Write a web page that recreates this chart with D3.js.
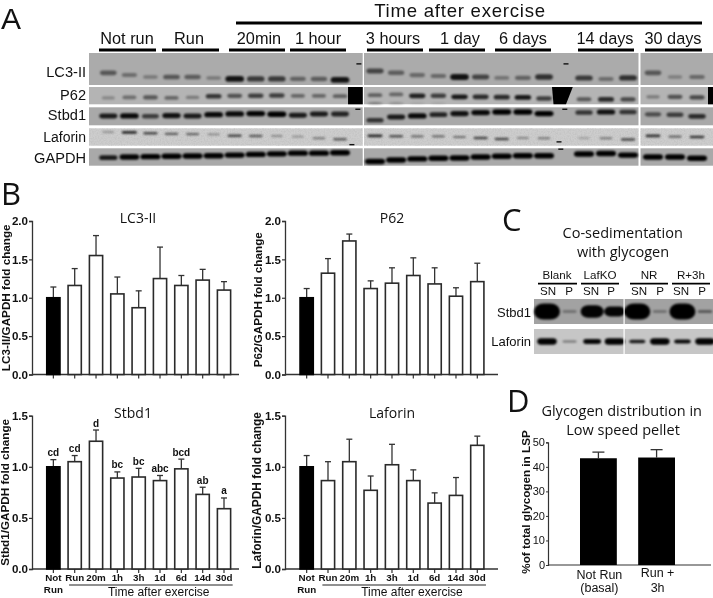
<!DOCTYPE html>
<html><head><meta charset="utf-8">
<script src="https://cdn.jsdelivr.net/npm/d3@7/dist/d3.min.js"></script>
<style>
html,body{margin:0;padding:0;background:#fff}
svg{display:block;filter:blur(0.3px)}
text{fill:#111}
</style></head><body>
<svg id="fig" width="713" height="598"></svg>
<script>
// ---------- data ----------
const timeCategories = ["Not","Run","20m","1h","3h","1d","6d","14d","30d"];
const lc3Means   = [1.0,1.16,1.55,1.05,0.87,1.25,1.16,1.23,1.10];
const lc3Upper   = [1.14,1.38,1.81,1.27,1.09,1.66,1.29,1.37,1.21];
const p62Means   = [1.0,1.32,1.74,1.12,1.19,1.29,1.18,1.02,1.21];
const p62Upper   = [1.12,1.51,1.83,1.22,1.39,1.52,1.39,1.13,1.45];
const stbdMeans  = [1.0,1.05,1.25,0.89,0.90,0.865,0.98,0.73,0.59];
const stbdUpper  = [1.07,1.11,1.36,0.95,0.985,0.915,1.075,0.80,0.695];
const stbdLetters= ["cd","cd","d","bc","bc","abc","bcd","ab","a"];
const lafMeans   = [1.0,0.865,1.05,0.77,1.02,0.865,0.645,0.72,1.21];
const lafUpper   = [1.11,1.05,1.27,0.91,1.22,0.97,0.745,0.895,1.30];
const glyCategories = [["Not Run","(basal)"],["Run +","3h"]];
const glyMeans   = [43.5,43.8];
const glyUpper   = [46,47];
const ticks2     = [0,0.5,1.0,1.5,2.0];
const ticks15    = [0,0.5,1.0,1.5];
const ticks50    = [0,10,20,30,40,50];

const groupLabels = ["Not run","Run","20min","1 hour","3 hours","1 day","6 days","14 days","30 days"];
const blotRows    = ["LC3-II","P62","Stbd1","Laforin","GAPDH"];
// band signal (0-1) per lane, and migration (% down the strip) per lane
const lc3Signal = [.6,.4,.3,.6,.55,.3,.95,.75,.75,.5,.55,.95,.7,.55,.45,.45,.95,.7,.35,.5,.8,.75,.4,.8,.6,.25,.45];
const lc3Shift  = [62,69,75,75,75,78,81,81,81,81,81,84,56,62,69,72,75,75,78,78,75,78,81,78,62,75,75];
const p62Signal = [.2,.4,.55,.45,.3,.75,.6,.7,.7,.45,.45,.5,.5,.45,.85,.7,.9,.8,.8,.9,.7,.55,.8,.65,.3,.6,.65];
const p62Shift  = [63,60,60,63,60,53,51,51,49,51,51,53,47,43,51,51,57,57,59,60,66,71,72,72,57,57,60];
const p62Lower  = [.4,.25,.1,.1];
const stbSignal = [.85,.95,.65,.9,.85,.95,.95,.98,1,.85,.85,.8,.7,.85,.95,.8,.9,.95,1,1,1,.7,.9,.7,.55,.65,.75];
const stbShift  = [48,48,50,46,48,41,37,35,39,44,37,37,72,54,48,41,35,29,26,26,35,29,26,26,39,41,50];
const lafSignal = [.3,.85,.7,.6,.55,.35,.7,.6,.3,.3,.45,.6,.85,.65,.5,.5,.5,.7,.7,.35,.45,.2,.45,.7,.8,.55,.8];
const lafShift  = [22,24,29,32,33,35,43,44,44,48,57,63,43,46,46,46,50,56,61,56,57,57,57,65,44,48,50];
const gapSignal = [.7,.95,1,1,1,1,1,1,1,1,1,1,1,1,1,1,1,1,1,1,1,1,1,1,1,1,1];
const gapShift  = [54,50,48,46,44,43,39,35,32,28,28,26,76,67,61,57,56,50,46,43,43,33,30,39,50,50,57];

const cGroups   = ["Blank","LafKO","NR","R+3h"];
const cFractions= ["SN","P","SN","P","SN","P","SN","P"];
const cStbd     = [1,.15,.85,.75,1,.15,1,.2];
const cLaf      = [.85,.2,.65,.9,.45,.85,.5,.85];

// ---------- helpers ----------
const svg = d3.select("#fig");
const sans = "'Liberation Sans',Arial,sans-serif";
const openFont = "'Open Sans',sans-serif";
const defs = svg.append("defs");
defs.append("filter").attr("id","soft").attr("x","-30%").attr("y","-100%").attr("width","160%").attr("height","300%")
    .append("feGaussianBlur").attr("stdDeviation",0.85);
const grain = defs.append("filter").attr("id","grain").attr("x","0").attr("y","0").attr("width","100%").attr("height","100%");
grain.append("feTurbulence").attr("type","fractalNoise").attr("baseFrequency",0.7).attr("numOctaves",2).attr("seed",4);
grain.append("feColorMatrix").attr("type","matrix").attr("values","0 0 0 0 0.35  0 0 0 0 0.35  0 0 0 0 0.35  0.5 0 0 0 -0.18");

function txt(x,y,s,o={}){
  return svg.append("text").attr("x",x).attr("y",y).text(s)
    .attr("text-anchor",o.anchor||"middle")
    .style("font-family",o.family||sans)
    .style("font-size",(o.size||12)+"px")
    .style("font-weight",o.weight||"normal")
    .attr("transform",o.rotate?`rotate(${o.rotate} ${x} ${y})`:null);
}
function rule(x1,x2,y,w,c){svg.append("line").attr("x1",x1).attr("x2",x2).attr("y1",y).attr("y2",y).attr("stroke",c||"#000").attr("stroke-width",w);}
function stadium(sel,cx,cy,rx,ry){
  return sel.attr("x",(d,i)=>cx(d,i)-rx(d)).attr("y",(d,i)=>cy(d,i)-ry(d))
    .attr("width",d=>2*rx(d)).attr("height",d=>2*ry(d)).attr("rx",d=>ry(d)*1.2).attr("ry",d=>ry(d));
}

// ---------- panel letters ----------
txt(1,29,"A",{anchor:"start",size:30});
[["B",1,205],["C",502,231],["D",507,412]].forEach(d=>txt(d[1],d[2],d[0],{anchor:"start",family:openFont,size:31}));

// ---------- panel A ----------
txt(460,17,"Time after exercise",{size:18.6}).style("letter-spacing","0.75px");
rule(236,702,23,3);
const groupCentres=[127,189,259,318,393,460,523,605,673];
const groupBars=[[99,156],[162,219],[229,285],[290,346],[367,423],[429,485],[495,551],[578,634],[645,702]];
groupLabels.forEach((g,i)=>{txt(groupCentres[i],44,g,{size:16.3});rule(groupBars[i][0],groupBars[i][1],50,3);});

const laneX = d3.scaleLinear().domain([0,11,12,20,21,23,24,26]).range([108.3,340,375,544,584,628,653,697]);
const strips=[[89,362.7],[364,638.5],[640.5,713]];
const rowsY=[[53,85,"#ababab"],[87,104.3,"#b4b4b4"],[107.3,125.3,"#a9a9a9"],[128.3,145.7,"#cdcdcd"],[148.3,165.7,"#a9a9a9"]];
const rowBands=[
 {signal:lc3Signal,shift:lc3Shift,rx:[6.5,9.5],ry:[1.3,3.0],dark:[.1,.5,.95]},
 {signal:p62Signal,shift:p62Shift,rx:[6,8.5],ry:[1.3,2.6],dark:[.1,.55,.98]},
 {signal:stbSignal,shift:stbShift,rx:[6.5,9.5],ry:[1.3,2.7],dark:[.1,.6,1]},
 {signal:lafSignal,shift:lafShift,rx:[5,8],ry:[0.7,1.5],dark:[.1,.55,.95]},
 {signal:gapSignal,shift:gapShift,rx:[7,10],ry:[1.7,2.7],dark:[.1,.8,1]}];
const labelY=[77,100,120,142,163];
const clipped = svg.append("g");
blotRows.forEach((name,r)=>{
  const [y0,y1,bg]=rowsY[r];
  strips.forEach(s=>{
    clipped.append("rect").attr("x",s[0]).attr("y",y0).attr("width",s[1]-s[0]).attr("height",y1-y0).attr("fill",bg);
    if(r===3) clipped.append("rect").attr("x",s[0]).attr("y",y0).attr("width",s[1]-s[0]).attr("height",y1-y0).attr("filter","url(#grain)");
  });
  const rowY=d3.scaleLinear().domain([0,100]).range([y0,y1]);
  const b=rowBands[r];
  const rx=d3.scaleLinear().domain([0,1]).range(b.rx);
  const ry=d3.scaleLinear().domain([0,1]).range(b.ry);
  const op=d3.scaleLinear().domain([0,.6,1]).range(b.dark);
  clipped.append("g").attr("filter","url(#soft)").selectAll("rect").data(b.signal).join("rect")
    .call(stadium,(d,i)=>laneX(i),(d,i)=>rowY(b.shift[i]),rx,ry)
    .attr("fill","#000").attr("opacity",d=>op(d));
  txt(86,labelY[r],name,{anchor:"end",size:r===3?14:14.6});
});
// P62 lower band and film artefacts
{
  const [y0,y1]=rowsY[1];
  const rowY=d3.scaleLinear().domain([0,100]).range([y0,y1]);
  clipped.append("g").attr("filter","url(#soft)").selectAll("ellipse").data(p62Lower).join("ellipse")
    .attr("cx",(d,i)=>laneX(i+12)).attr("cy",rowY(94)).attr("rx",8).attr("ry",0.9).attr("fill","#000").attr("opacity",d=>d);
  [[11.23,11.65,11.65],[20.2,20.72,20.55],[26.5,26.8,26.8]].forEach(a=>{
    const t=[[laneX(a[0]),y0],[laneX(a[1]),y0],[laneX(a[2]),y1],[laneX(a[2]-(a[1]-a[0])*(a[0]===20.2?0.6:1)),y1]];
    clipped.append("path").attr("d",d3.line()(t)+"Z").attr("fill","#000");
  });
}
const specks=[[11.54,0,34],[20.55,0,34],[20.42,4,5],[20.375,3,78],[11.34,3,94],[11.51,2,11],[20.52,2,11]];
specks.forEach(s=>{
  const [y0,y1]=rowsY[s[1]];
  clipped.append("rect").attr("x",laneX(s[0])-2.5).attr("y",y0+(y1-y0)*s[2]/100-.7).attr("width",5).attr("height",1.4).attr("fill","#111");
});

// ---------- panel B bar charts ----------
function barPanel(o){
  const g=svg.append("g");
  const y=d3.scaleLinear().domain([0,o.max]).range([o.y0,o.yTop]);
  const x=d3.scaleBand().domain(timeCategories).range([o.xStart,o.xStart+9*21.33]).paddingInner(0.38).paddingOuter(0.19);
  const ya=d3.axisLeft(y).tickValues(o.ticks).tickFormat(d3.format(".1f")).tickSize(3).tickPadding(1);
  const yg=g.append("g").attr("transform",`translate(${o.axisX},0)`).call(ya);
  yg.selectAll("text").style("font-family",sans).style("font-size","11.6px").style("font-weight","bold").attr("fill","#111");
  yg.selectAll("line").attr("stroke","#333").attr("stroke-width",1.2);
  yg.select(".domain").attr("stroke","#333").attr("stroke-width",1.3);
  g.append("line").attr("x1",o.axisX).attr("x2",o.axisX+o.axisLen).attr("y1",o.y0).attr("y2",o.y0).attr("stroke","#333").attr("stroke-width",1.3);
  g.selectAll(".xt").data(timeCategories).join("line")
    .attr("x1",d=>x(d)+x.bandwidth()/2).attr("x2",d=>x(d)+x.bandwidth()/2)
    .attr("y1",o.y0).attr("y2",o.y0+4).attr("stroke","#333").attr("stroke-width",1.2);
  const ew=g.selectAll(".e").data(timeCategories).join("g");
  ew.append("line").attr("x1",d=>x(d)+x.bandwidth()/2).attr("x2",d=>x(d)+x.bandwidth()/2)
    .attr("y1",(d,i)=>y(o.means[i])).attr("y2",(d,i)=>y(o.upper[i])).attr("stroke","#333").attr("stroke-width",1.3);
  ew.append("line").attr("x1",d=>x(d)+x.bandwidth()/2-3).attr("x2",d=>x(d)+x.bandwidth()/2+3)
    .attr("y1",(d,i)=>y(o.upper[i])).attr("y2",(d,i)=>y(o.upper[i])).attr("stroke","#333").attr("stroke-width",1.3);
  g.selectAll(".b").data(timeCategories).join("rect")
    .attr("x",d=>x(d)).attr("width",x.bandwidth())
    .attr("y",(d,i)=>y(o.means[i])).attr("height",(d,i)=>o.y0-y(o.means[i]))
    .attr("fill",(d,i)=>i===0?"#000":"#fff").attr("stroke",(d,i)=>i===0?"#000":"#2a2a2a").attr("stroke-width",1.6);
  txt(o.titleX,o.titleY,o.title,{family:openFont,size:14});
  txt(o.labelX,(o.yTop+o.y0)/2+o.labelDy,o.label,{size:o.labelSize,weight:"bold",rotate:-90});
  if(o.letters) o.letters.forEach((l,i)=>txt(x(timeCategories[i])+x.bandwidth()/2,y(o.upper[i])-3.5,l,{size:10,weight:"bold"}));
  if(o.cats){
    timeCategories.forEach(c=>txt(x(c)+x.bandwidth()/2,o.y0+12,c,{size:9.8,weight:"bold"}));
    txt(x("Not")+x.bandwidth()/2,o.y0+24,"Run",{size:9.8,weight:"bold"});
    rule(x("Run")+1,o.xStart+9*21.33-2,o.y0+16,1.1,"#222");
    txt(o.xStart+116,o.y0+26.5,"Time after exercise",{size:12});
  }
}
barPanel({title:"LC3-II",titleX:138,titleY:223,axisX:32,axisLen:207,xStart:42.7,yTop:221,y0:374.5,max:2,ticks:ticks2,means:lc3Means,upper:lc3Upper,labelX:9.5,labelDy:0,labelSize:11.7,label:"LC3-II/GAPDH fold change"});
barPanel({title:"P62",titleX:392,titleY:223,axisX:285,axisLen:213,xStart:296,yTop:221,y0:374.5,max:2,ticks:ticks2,means:p62Means,upper:p62Upper,labelX:262,labelDy:2,labelSize:11.7,label:"P62/GAPDH fold change"});
barPanel({title:"Stbd1",titleX:133,titleY:418,axisX:32,axisLen:207,xStart:42.7,yTop:415.7,y0:569,max:1.5,ticks:ticks15,means:stbdMeans,upper:stbdUpper,labelX:9.5,labelDy:0,labelSize:11.7,label:"Stbd1/GAPDH fold change",letters:stbdLetters,cats:true});
barPanel({title:"Laforin",titleX:392,titleY:418,axisX:285,axisLen:213,xStart:296,yTop:415.7,y0:569,max:1.5,ticks:ticks15,means:lafMeans,upper:lafUpper,labelX:261,labelDy:-2,labelSize:11.9,label:"Laforin/GAPDH fold change",cats:true});

// ---------- panel C ----------
txt(622.7,237.7,"Co-sedimentation",{family:openFont,size:14.5});
txt(623,256.7,"with glycogen",{family:openFont,size:14.5});
const cGroupX=[557,600,649,691],cGroupBars=[[538,577],[581,619],[630,668],[672,710]];
cGroups.forEach((g,i)=>{txt(cGroupX[i],279,g,{size:11.6});rule(cGroupBars[i][0],cGroupBars[i][1],283.7,1.8);});
const cLane=d3.scaleLinear().domain([0,7]).range([547,705]);
const cFracX=[548,569,591,611,639,660,681,702];
cFractions.forEach((f,i)=>txt(cFracX[i],295,f,{size:11.6}));
[[299,324,"#a2a2a2",cStbd,[0,.15,.75,1],[6,7,10.5,13],[1,1.3,5,8],"Stbd1",317],[329,354,"#c6c6c6",cLaf,[0,.2,.9,1],[6,7,10,10.5],[.5,1,3.3,3.6],"Laforin",346]].forEach(r=>{
  svg.append("rect").attr("x",534).attr("y",r[0]).attr("width",179).attr("height",r[1]-r[0]).attr("fill",r[2]);
  const rx=d3.scaleLinear().domain(r[4]).range(r[5]);
  const ry=d3.scaleLinear().domain(r[4]).range(r[6]);
  const op=d3.scaleLinear().domain([0,.2,.5,1]).range([.1,.45,.95,1]);
  svg.append("g").attr("filter","url(#soft)").selectAll("rect").data(r[3]).join("rect")
    .call(stadium,(d,i)=>cLane(i),()=>(r[0]+r[1])/2,rx,ry).attr("fill","#000").attr("opacity",d=>op(d));
  svg.append("rect").attr("x",623.5).attr("y",r[0]).attr("width",1.2).attr("height",r[1]-r[0]).attr("fill","#fff");
  txt(531,r[8],r[7],{anchor:"end",size:13});
});

// ---------- panel D ----------
txt(621.7,415.7,"Glycogen distribution in",{family:openFont,size:14.5});
txt(623,435,"Low speed pellet",{family:openFont,size:14.5});
{
  const y=d3.scaleLinear().domain([0,50]).range([565,442.3]);
  const x=d3.scaleBand().domain([0,1]).range([580,675]).paddingInner(0.367).paddingOuter(0);
  const ya=d3.axisLeft(y).tickValues(ticks50).tickSize(2).tickPadding(1);
  const yg=svg.append("g").attr("transform","translate(548,0)").call(ya);
  yg.selectAll("text").style("font-family",sans).style("font-size","11px").attr("fill","#111");
  yg.selectAll("line").attr("stroke","#333");
  yg.select(".domain").attr("stroke","#333").attr("stroke-width",1.2);
  rule(548,711,565,1.2,"#333");
  glyMeans.forEach((m,i)=>{
    const cx=x(i)+x.bandwidth()/2;
    svg.append("line").attr("x1",cx).attr("x2",cx).attr("y1",y(m)).attr("y2",y(glyUpper[i])).attr("stroke","#333").attr("stroke-width",1.3);
    svg.append("line").attr("x1",cx-6).attr("x2",cx+6).attr("y1",y(glyUpper[i])).attr("y2",y(glyUpper[i])).attr("stroke","#333").attr("stroke-width",1.3);
    svg.append("rect").attr("x",x(i)).attr("width",x.bandwidth()).attr("y",y(m)).attr("height",565-y(m)).attr("fill","#000");
    txt(cx+1,i?577:579,glyCategories[i][0],{size:12.5});
    txt(cx+1,592,glyCategories[i][1],{size:12.5});
  });
  txt(530,502,"%of total glycogen in LSP",{size:11.7,weight:"bold",rotate:-90});
}
</script>
</body></html>
